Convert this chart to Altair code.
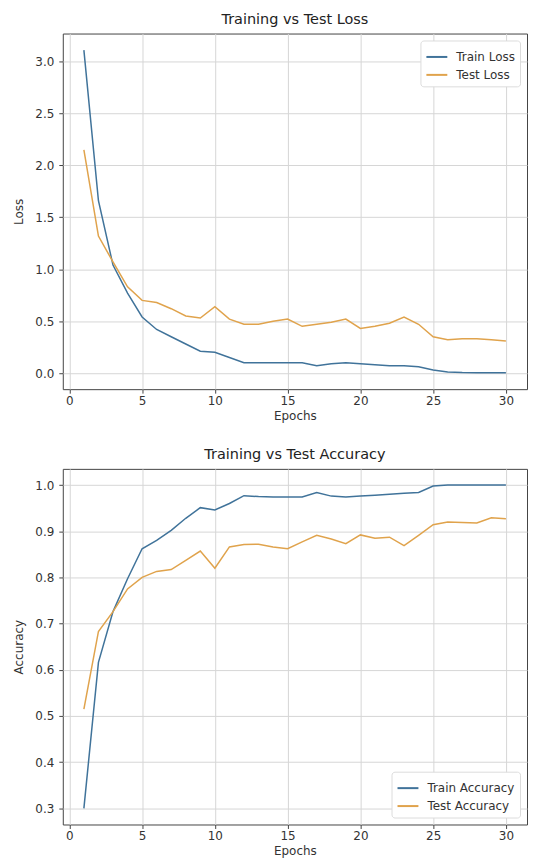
import altair as alt
import pandas as pd

epochs = list(range(1, 31))
train_loss = [3.11, 1.66, 1.04, 0.77, 0.54, 0.42, 0.35, 0.28, 0.21, 0.20,
              0.15, 0.10, 0.10, 0.10, 0.10, 0.10, 0.07, 0.09, 0.10, 0.09,
              0.08, 0.07, 0.07, 0.06, 0.03, 0.01, 0.005, 0.004, 0.004, 0.003]
test_loss = [2.15, 1.32, 1.07, 0.83, 0.70, 0.68, 0.62, 0.55, 0.53, 0.64,
             0.52, 0.47, 0.47, 0.50, 0.52, 0.45, 0.47, 0.49, 0.52, 0.43,
             0.45, 0.48, 0.54, 0.47, 0.35, 0.32, 0.33, 0.33, 0.32, 0.31]
train_acc = [0.300, 0.616, 0.726, 0.797, 0.862, 0.880, 0.902, 0.928, 0.951, 0.946,
             0.960, 0.977, 0.975, 0.974, 0.974, 0.974, 0.984, 0.976, 0.974, 0.976,
             0.978, 0.980, 0.982, 0.984, 0.998, 1.000, 1.000, 1.000, 1.000, 1.000]
test_acc = [0.515, 0.683, 0.726, 0.775, 0.800, 0.813, 0.817, 0.837, 0.857, 0.820,
            0.866, 0.871, 0.872, 0.866, 0.862, 0.877, 0.891, 0.883, 0.873, 0.892,
            0.885, 0.887, 0.869, 0.891, 0.914, 0.920, 0.919, 0.918, 0.929, 0.927]

loss_series = ["Train Loss", "Test Loss"]
acc_series = ["Train Accuracy", "Test Accuracy"]
x_ticks = [0, 5, 10, 15, 20, 25, 30]
loss_ticks = [0.0, 0.5, 1.0, 1.5, 2.0, 2.5, 3.0]
acc_ticks = [0.3, 0.4, 0.5, 0.6, 0.7, 0.8, 0.9, 1.0]

BLUE = "#40739a"
ORANGE = "#e0a34c"
FONT = "DejaVu Sans"

loss_df = pd.concat([
    pd.DataFrame({"Epoch": epochs, "Value": train_loss, "Series": loss_series[0]}),
    pd.DataFrame({"Epoch": epochs, "Value": test_loss, "Series": loss_series[1]}),
])
acc_df = pd.concat([
    pd.DataFrame({"Epoch": epochs, "Value": train_acc, "Series": acc_series[0]}),
    pd.DataFrame({"Epoch": epochs, "Value": test_acc, "Series": acc_series[1]}),
])

x_enc = alt.X("Epoch:Q", title="Epochs",
              scale=alt.Scale(domain=[-0.45, 31.45], nice=False, zero=False),
              axis=alt.Axis(values=x_ticks, format="d", titleFontWeight="normal",
                            titlePadding=4, labelPadding=2))


def panel(df, series, ytitle, ydomain, yticks, title, legend_orient):
    return alt.Chart(df).mark_line(strokeWidth=1.5).encode(
        x=x_enc,
        y=alt.Y("Value:Q", title=ytitle,
                scale=alt.Scale(domain=ydomain, nice=False, zero=False),
                axis=alt.Axis(values=yticks, format=".1f", titleFontWeight="normal",
                              titlePadding=9, labelPadding=5)),
        color=alt.Color("Series:N",
                        scale=alt.Scale(domain=series, range=[BLUE, ORANGE]),
                        sort=series,
                        legend=alt.Legend(title=None, orient=legend_orient,
                                          symbolType="stroke", symbolSize=441,
                                          symbolStrokeWidth=2,
                                          labelFont=FONT, labelFontSize=12,
                                          labelColor="#333", labelOffset=8,
                                          rowPadding=0,
                                          fillColor="white", strokeColor="#dcdcdc",
                                          padding=5, offset=7, cornerRadius=3)),
    ).properties(
        width=466, height=357,
        title=alt.TitleParams(title, font=FONT, fontSize=14.5, fontWeight="normal",
                              color="#222", offset=6),
    )


loss_chart = panel(loss_df, loss_series, "Loss", [-0.155, 3.27], loss_ticks,
                   "Training vs Test Loss", "top-right")
acc_chart = panel(acc_df, acc_series, "Accuracy", [0.265, 1.035], acc_ticks,
                  "Training vs Test Accuracy", "bottom-right")

chart = alt.vconcat(loss_chart, acc_chart, spacing=25).resolve_scale(
    color="independent"
).properties(
    padding={"left": 4, "top": 2, "right": 0, "bottom": 0}
).configure_view(
    stroke="#444", strokeWidth=1
).configure_axis(
    grid=True, gridColor="#d6d6d6", gridWidth=1,
    domain=False, tickColor="#444", tickSize=4,
    labelFont=FONT, labelFontSize=12, labelColor="#333",
    titleFont=FONT, titleFontSize=12, titleColor="#333",
)

chart.save("out.html", embed_options={"renderer": "svg", "actions": False})
